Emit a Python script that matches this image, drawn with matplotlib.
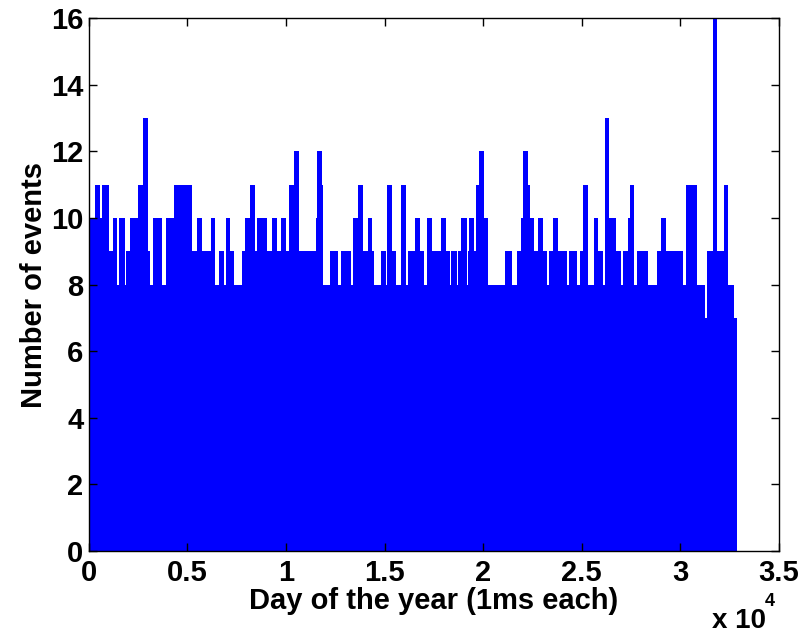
import numpy as np
import matplotlib
matplotlib.use('Agg')
import matplotlib.pyplot as plt

# upper envelope of the event counts
# segment start (ms) and the max count in that segment
seg_start = [0, 304, 558, 644, 1030, 1197, 1435, 1506, 1826, 1892,
             2080, 2501, 2719, 2978, 3094, 3246, 3688, 3906, 4327, 5210,
             5494, 5717, 6173, 6391, 6609, 6848, 6934, 7152, 7355, 7746,
             7913, 8167, 8420, 8522, 9013, 9267, 9521, 9724, 9977, 10145,
             10398, 10652, 11515, 11580, 11804, 11885, 12225, 12615, 12783, 13290,
             13407, 13660, 13884, 14137, 14370, 14457, 14812, 15050, 15101, 15355,
             15558, 15826, 16080, 16166, 16536, 16790, 17008, 17130, 17384, 17855,
             18094, 18312, 18363, 18652, 18733, 18870, 19159, 19240, 19291, 19529,
             19630, 19798, 20036, 20254, 21102, 21441, 21725, 21913, 22030, 22253,
             22370, 22573, 22760, 22801, 23014, 23217, 23349, 23521, 23775, 24262,
             24363, 24769, 24906, 25043, 25327, 25632, 25804, 26058, 26174, 26392,
             26732, 26970, 27102, 27325, 27442, 27660, 27782, 28370, 28797, 29015,
             29268, 30116, 30283, 30856, 31247, 31364, 31638, 31841, 32210, 32428,
             32733]
seg_max = [10, 11, 10, 11, 9, 10, 8, 10, 8, 9,
           10, 11, 13, 9, 8, 10, 8, 10, 11, 9,
           10, 9, 10, 8, 9, 8, 10, 9, 8, 9,
           10, 11, 9, 10, 9, 10, 9, 10, 9, 11,
           12, 9, 10, 12, 11, 8, 9, 8, 9, 8,
           10, 11, 9, 10, 9, 8, 9, 8, 11, 9,
           8, 11, 8, 9, 10, 9, 8, 10, 9, 10,
           9, 8, 9, 8, 9, 10, 8, 9, 10, 9,
           11, 12, 10, 8, 9, 8, 9, 10, 12, 11,
           10, 9, 8, 10, 9, 8, 9, 10, 9, 8,
           9, 8, 9, 11, 8, 10, 9, 8, 13, 10,
           9, 8, 9, 10, 11, 8, 9, 8, 9, 10,
           9, 8, 11, 8, 7, 9, 16, 9, 11, 8,
           7]
data_end = 32855

plt.rcParams['font.family'] = ['Liberation Sans']
plt.rcParams['font.weight'] = 'bold'

fig = plt.figure(figsize=(8.01, 6.39), dpi=100)
ax = fig.add_axes([0.111, 0.1377, 0.8615, 0.8341])

edges = seg_start + [data_end]
ax.stairs(seg_max, edges, fill=True, color='#0000ff', lw=0)

ax.set_xlim(0, 35000)
ax.set_ylim(0, 16)
ax.set_xticks(np.arange(0, 35001, 5000))
ax.set_xticklabels(['0', '0.5', '1', '1.5', '2', '2.5', '3', '3.5'])
ax.set_yticks(np.arange(0, 17, 2))
ax.tick_params(direction='in', length=6, width=1, top=True, right=True,
               labelsize=21, pad=6)
ax.tick_params(axis='y', pad=4)
for s in ax.spines.values():
    s.set_linewidth(1)

ax.set_xlabel('Day of the year (1ms each)', fontsize=21, fontweight='bold', labelpad=0)
ax.set_ylabel('Number of events', fontsize=21, fontweight='bold', labelpad=2)

fig.text(0.889, 0.008, 'x 10', fontsize=20, fontweight='bold', ha='left', va='bottom')
fig.text(0.955, 0.045, '4', fontsize=13, fontweight='bold', ha='left', va='bottom')

fig.savefig('out.png', dpi=100)
